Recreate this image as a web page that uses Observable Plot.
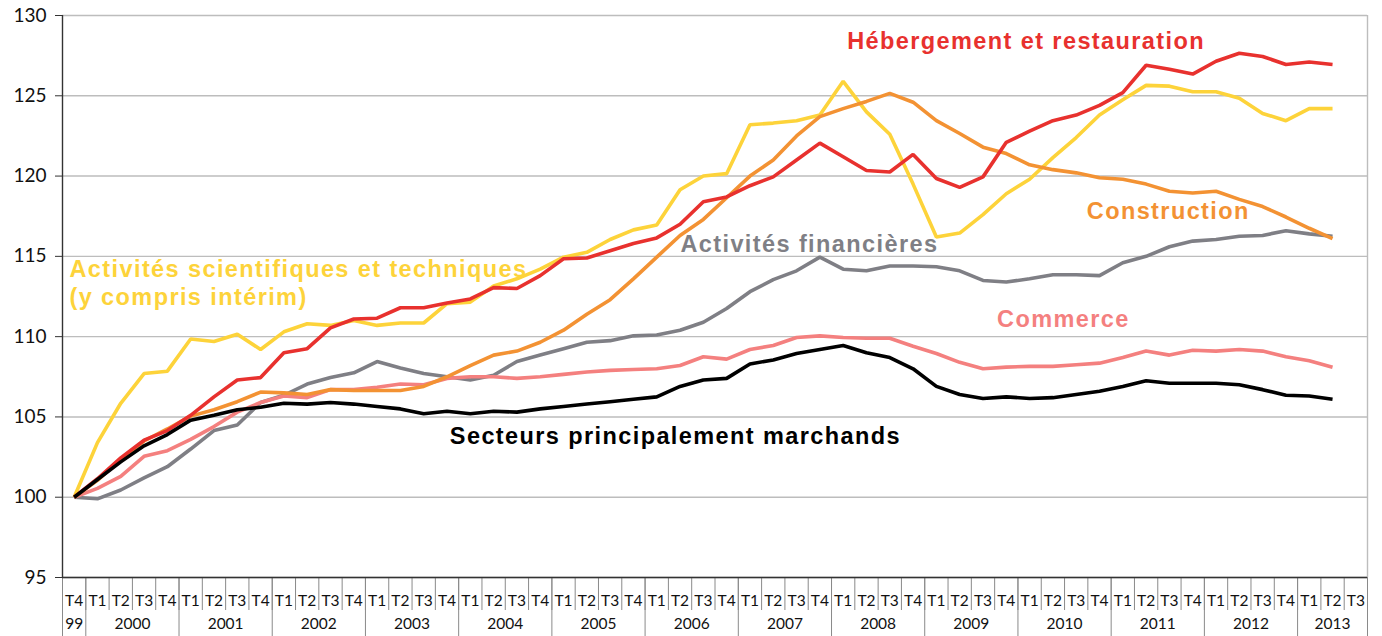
<!DOCTYPE html>
<html>
<head>
<meta charset="utf-8">
<script src="https://cdn.jsdelivr.net/npm/d3@7"></script>
<script src="https://cdn.jsdelivr.net/npm/@observablehq/plot@0.6"></script>
<style>
  html, body { margin: 0; padding: 0; background: #fff; }
  #chart svg { display: block; }
</style>
</head>
<body>
<div id="chart"></div>
<script>
// ---- Data -------------------------------------------------------------
const quarterLabels = ["T4",
  "T1","T2","T3","T4", "T1","T2","T3","T4", "T1","T2","T3","T4", "T1","T2","T3","T4",
  "T1","T2","T3","T4", "T1","T2","T3","T4", "T1","T2","T3","T4", "T1","T2","T3","T4",
  "T1","T2","T3","T4", "T1","T2","T3","T4", "T1","T2","T3","T4", "T1","T2","T3","T4",
  "T1","T2","T3","T4", "T1","T2","T3"];
const yearLabels = ["99","2000","2001","2002","2003","2004","2005","2006","2007","2008","2009","2010","2011","2012","2013"];
const yTicks = [95, 100, 105, 110, 115, 120, 125, 130];

const marchands = [100,101.1,102.2,103.2,103.9,104.8,105.1,105.45,105.6,105.85,
  105.8,105.9,105.8,105.65,105.5,105.2,105.35,105.2,105.35,105.3,
  105.5,105.65,105.8,105.95,106.1,106.25,106.9,107.3,107.4,108.3,
  108.55,108.95,109.2,109.45,109.0,108.7,108.0,106.9,106.4,106.15,
  106.25,106.15,106.2,106.4,106.6,106.9,107.25,107.1,107.1,107.1,
  107.0,106.7,106.35,106.3,106.1];
const commerce = [100,100.55,101.3,102.55,102.9,103.6,104.4,105.3,105.9,106.3,
  106.2,106.7,106.7,106.85,107.05,107.0,107.4,107.5,107.5,107.4,
  107.5,107.65,107.8,107.9,107.95,108.0,108.2,108.75,108.6,109.2,
  109.45,109.95,110.05,109.95,109.9,109.9,109.4,108.95,108.4,108.0,
  108.1,108.15,108.15,108.25,108.35,108.7,109.1,108.85,109.15,109.1,
  109.2,109.1,108.75,108.5,108.1];
const financieres = [100,99.9,100.45,101.2,101.9,103.0,104.15,104.5,105.9,106.35,
  107.05,107.45,107.75,108.45,108.05,107.7,107.5,107.3,107.6,108.45,
  108.85,109.25,109.65,109.75,110.05,110.1,110.4,110.9,111.75,112.8,
  113.55,114.1,114.95,114.2,114.1,114.4,114.4,114.35,114.1,113.5,
  113.4,113.6,113.85,113.85,113.8,114.6,115.0,115.6,115.95,116.05,
  116.25,116.3,116.6,116.4,116.25];
const construction = [100,101.05,102.35,103.5,104.25,105.05,105.45,105.95,106.55,106.5,
  106.4,106.7,106.65,106.65,106.65,106.9,107.5,108.2,108.85,109.1,
  109.65,110.4,111.4,112.3,113.6,114.95,116.3,117.3,118.65,120.0,
  121.0,122.5,123.7,124.2,124.65,125.15,124.6,123.45,122.65,121.8,
  121.4,120.7,120.4,120.2,119.9,119.8,119.5,119.05,118.95,119.05,
  118.55,118.1,117.45,116.75,116.1];
const hebergement = [100,101.15,102.45,103.55,104.15,105.1,106.25,107.3,107.45,109.0,
  109.25,110.55,111.1,111.15,111.8,111.8,112.1,112.35,113.05,113.0,
  113.8,114.85,114.9,115.35,115.8,116.15,117.0,118.4,118.7,119.4,
  119.95,121.0,122.05,121.2,120.35,120.25,121.35,119.85,119.3,119.95,
  122.1,122.8,123.45,123.8,124.4,125.2,126.9,126.65,126.35,127.15,
  127.65,127.45,126.95,127.1,126.95];
const scientifiques = [100,103.4,105.85,107.7,107.85,109.85,109.7,110.15,109.2,110.3,
  110.8,110.7,111.0,110.7,110.85,110.85,112.05,112.15,113.15,113.6,
  114.2,114.95,115.25,116.05,116.65,116.95,119.15,120.0,120.15,123.2,
  123.3,123.45,123.8,125.9,124.0,122.6,119.5,116.2,116.45,117.6,
  118.9,119.8,121.15,122.4,123.8,124.75,125.65,125.6,125.25,125.25,
  124.85,123.9,123.45,124.2,124.2];

// ---- Build tables -----------------------------------------------------
const nQ = quarterLabels.length;                       // 56 columns on the axis
const toRows = (vals) => vals.map((v, i) => ({x: i + 0.5, v}));
const quarterCenters = d3.range(nQ).map(i => i + 0.5);
const quarterBounds = d3.range(nQ + 1);
const yearSpans = [];
{ let start = 0;
  yearLabels.forEach((y, k) => {
    const len = k === 0 ? 1 : Math.min(4, nQ - start);
    yearSpans.push({label: y, start, end: start + len});
    start += len;
  });
}
const yearBounds = [0, ...yearSpans.map(s => s.end)];
const yearCenters = yearSpans.map(s => (s.start + s.end) / 2);
const yearLabelAt = new Map(yearSpans.map(s => [(s.start + s.end) / 2, s.label]));

const series = [
  {key: "fin", vals: financieres, color: "#7f7f85"},
  {key: "com", vals: commerce, color: "#f4807f"},
  {key: "sci", vals: scientifiques, color: "#fdd33a"},
  {key: "con", vals: construction, color: "#f39233"},
  {key: "heb", vals: hebergement, color: "#e8312e"},
  {key: "mar", vals: marchands, color: "#000000"}
];
const colorOf = Object.fromEntries(series.map(s => [s.key, s.color]));

// annotation labels (positions in data units)
const labels = [
  {text: "Hébergement et restauration", x: 41.35, y: 128.4, key: "heb", anchor: "middle"},
  {text: "Construction", x: 47.45, y: 117.8, key: "con", anchor: "middle"},
  {text: "Activités financières", x: 32.05, y: 115.75, key: "fin", anchor: "middle"},
  {text: "Activités scientifiques et techniques", x: 0.3, y: 114.2, key: "sci", anchor: "start"},
  {text: "(y compris intérim)", x: 0.3, y: 112.45, key: "sci", anchor: "start"},
  {text: "Commerce", x: 42.95, y: 111.08, key: "com", anchor: "middle"},
  {text: "Secteurs principalement marchands", x: 26.3, y: 103.8, key: "mar", anchor: "middle"}
];

const axisFont = "Lato, 'Open Sans', sans-serif";
const labelFont = "'Liberation Sans', Arial, sans-serif";

const chart = Plot.plot({
  width: 1382,
  height: 636,
  marginLeft: 62,
  marginRight: 15,
  marginTop: 15,
  marginBottom: 59,
  style: {fontFamily: axisFont, background: "#fff"},
  x: {type: "linear", domain: [0, nQ], label: null},
  y: {domain: [95, 130], label: null},
  marks: [
    Plot.gridY(yTicks, {stroke: "#bdbdbd", strokeOpacity: 1, strokeWidth: 1.4}),
    Plot.ruleX([nQ], {stroke: "#bdbdbd", strokeWidth: 1.4}),
    // y axis
    Plot.axisY(yTicks, {tickSize: 7, tickPadding: 9, fontSize: 19, stroke: "#333", fill: "#111", label: null}),
    Plot.ruleX([0], {stroke: "#333", strokeWidth: 1.4}),
    // x axis: quarter separators, year separators, labels
    Plot.axisX(quarterBounds, {tickSize: 33, tickFormat: () => "", stroke: "#8a8a8a", label: null}),
    Plot.axisX(yearBounds, {tickSize: 62, tickFormat: () => "", stroke: "#8a8a8a", label: null}),
    Plot.axisX(quarterCenters, {tickSize: 0, tickPadding: 17, fontSize: 15.5, fill: "#111", label: null,
      tickFormat: d => quarterLabels[Math.floor(d)]}),
    Plot.axisX(yearCenters, {tickSize: 0, tickPadding: 40, fontSize: 15.5, fill: "#111", label: null,
      tickFormat: d => yearLabelAt.get(d)}),
    Plot.ruleY([95], {stroke: "#333", strokeWidth: 1.4}),
    // series
    ...series.map(s => Plot.line(toRows(s.vals), {
      x: "x", y: "v", stroke: s.color, strokeWidth: 3.6,
      strokeLinejoin: "miter", strokeLinecap: "butt"
    })),
    // labels
    ...["start", "middle"].map(a => Plot.text(labels.filter(l => l.anchor === a), {
      x: "x", y: "y", text: "text", fill: d => colorOf[d.key],
      textAnchor: a, fontSize: 23.5, fontWeight: "bold", fontFamily: labelFont
    }))
  ]
});
d3.select(chart).selectAll("g[aria-label='text'] text").attr("letter-spacing", "1.4px");
document.getElementById("chart").appendChild(chart);
</script>
</body>
</html>
